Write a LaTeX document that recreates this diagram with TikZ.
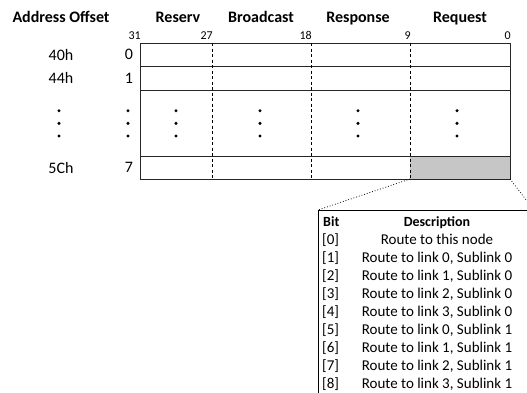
\documentclass[tikz,border=0pt]{standalone}
\usepackage{fontspec}
\setmainfont{Carlito}
\usetikzlibrary{positioning}

\tikzset{
  hdr/.style={font=\fontsize{16}{19}\selectfont\bfseries, inner sep=0pt, anchor=base},
  rowlbl/.style={font=\fontsize{16}{19}\selectfont, inner sep=0pt},
  bitno/.style={font=\fontsize{12}{14}\selectfont, inner sep=0pt, anchor=base east},
  celltxt/.style={font=\fontsize{15}{18}\selectfont, inner sep=0pt, anchor=base},
  regline/.style={line width=0.9pt, draw=black!85},
  fieldsep/.style={line width=0.6pt, dash pattern=on 3pt off 2.5pt},
  zoomline/.style={line width=0.8pt, dotted},
}

\begin{document}
\begin{tikzpicture}[x=1pt,y=-1pt]
\useasboundingbox (0,0) rectangle (527,392);
\clip (0,0) rectangle (527,392);

% column titles
\node[hdr] (t-addr) at (61,22) {Address Offset};
\node[hdr] (t-res)  at (178,22) {Reserv};
\node[hdr] (t-bc)   at (261,22) {Broadcast};
\node[hdr] (t-rsp)  at (358,22) {Response};
\node[hdr] (t-req)  at (460,22) {Request};

% bit positions
\node[bitno] (b31) at (141,39) {31};
\node[bitno] (b27) at (213,39) {27};
\node[bitno] (b18) at (312,39) {18};
\node[bitno] (b9)  at (411,39) {9};
\node[bitno] (b0)  at (511,39) {0};

% shaded request field of the last entry
\fill[gray!45] (410,156) rectangle (510,179);
\coordinate (req-sw) at (410,179);
\coordinate (req-se) at (510,179);

% register rows
\draw[regline] (140,43) rectangle (510,179);
\foreach \y in {66,90,156}
{\draw[regline] (140,\y) -- (510,\y);}
\foreach \x in {212,311,410}
{\draw[fieldsep] (\x,43) -- (\x,179);}

% offsets and entry numbers
\node[rowlbl] (a0) at (61,54.5) {40h};
\node[rowlbl] (a1) at (61,78) {44h};
\node[rowlbl] (a7) at (61,167.5) {5Ch};
\node[rowlbl] (i0) at (129,54.5) {0};
\node[rowlbl] (i1) at (129,78) {1};
\node[rowlbl] (i7) at (129,167.5) {7};

% skipped entries
\foreach \x in {59,128,176,260,358,457}
\foreach \y in {110.7,123.3,136}
{\fill (\x,\y) circle (1.7pt);}

% bit description table
\node[draw, line width=0.9pt, anchor=north west, minimum width=215pt, minimum height=200pt] (tbl) at (318,210) {};
\draw[zoomline] (req-sw) -- (tbl.north west);
\draw[zoomline] (req-se) -- (tbl.north east);

\node[celltxt, font=\fontsize{14}{17}\selectfont\bfseries, anchor=base west] (h-bit) at (323,226) {Bit};
\node[celltxt, font=\fontsize{14}{17}\selectfont\bfseries] (h-desc) at (437,226) {Description};
\foreach \i/\txt in {0/Route to this node,
  1/{Route to link 0, Sublink 0}, 2/{Route to link 1, Sublink 0},
  3/{Route to link 2, Sublink 0}, 4/{Route to link 3, Sublink 0},
  5/{Route to link 0, Sublink 1}, 6/{Route to link 1, Sublink 1},
  7/{Route to link 2, Sublink 1}, 8/{Route to link 3, Sublink 1}}
{
  \node[celltxt, anchor=base west] (bit\i) at (322,244+18*\i) {[\i]};
  \node[celltxt] (desc\i) at (437,244+18*\i) {\txt};
}
\end{tikzpicture}
\end{document}
